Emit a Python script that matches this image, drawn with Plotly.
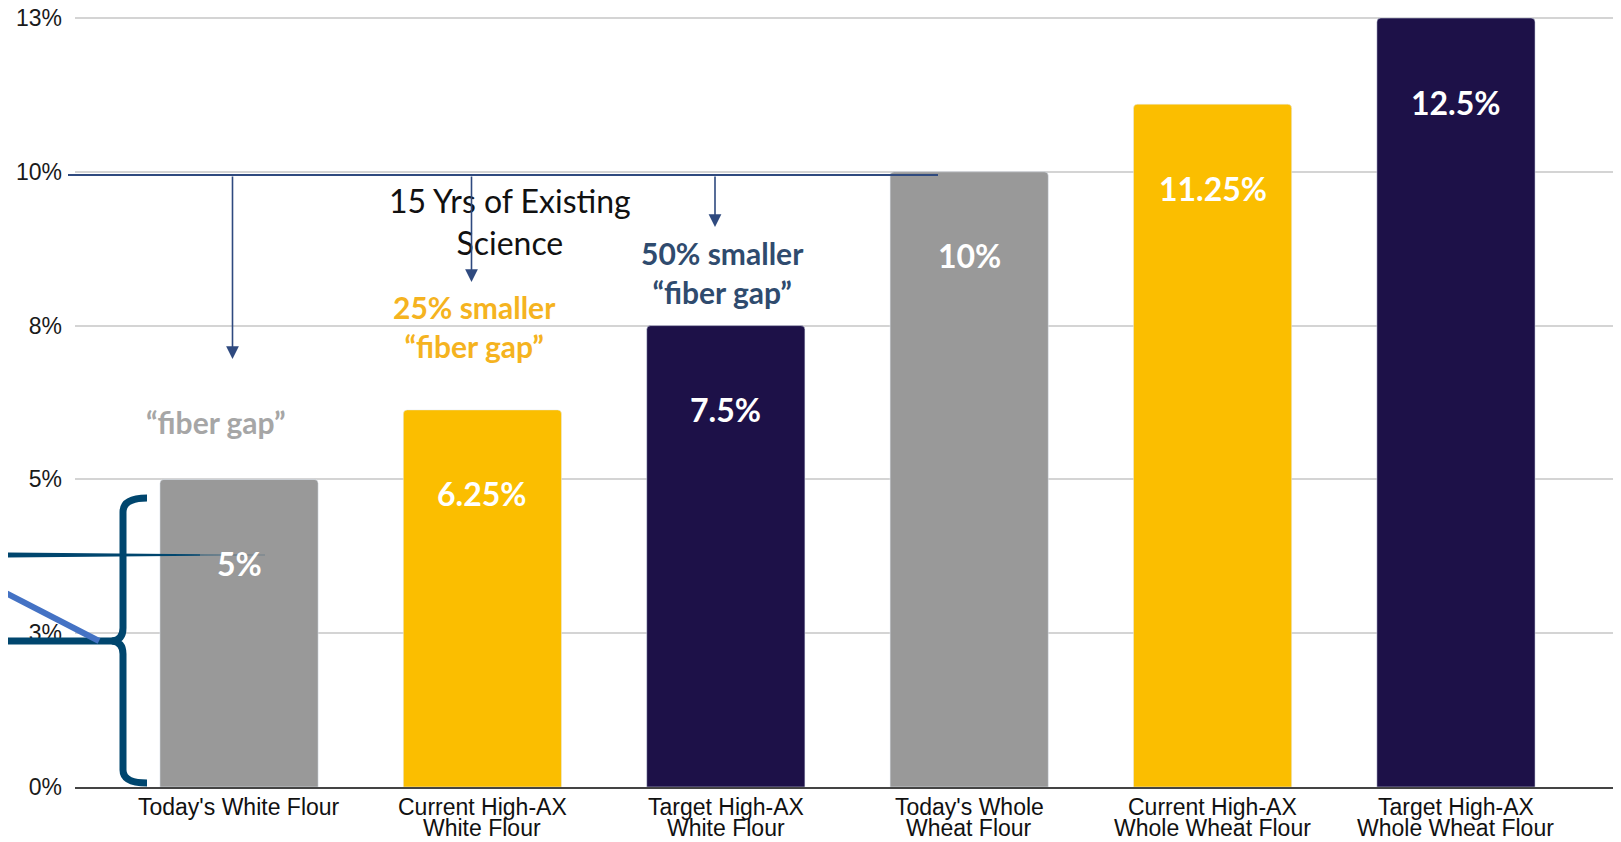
import plotly.graph_objects as go

# ---------------- data ----------------
categories = ["Today's White Flour", "Current High-AX<br>White Flour", "Target High-AX<br>White Flour",
              "Today's Whole<br>Wheat Flour", "Current High-AX<br>Whole Wheat Flour",
              "Target High-AX<br>Whole Wheat Flour"]
values = [5.0, 6.13, 7.5, 10.0, 11.1, 12.5]
value_labels = ["5%", "6.25%", "7.5%", "10%", "11.25%", "12.5%"]
bar_colors = ["#999999", "#FBBE00", "#1D1148", "#999999", "#FBBE00", "#1D1148"]
y_tickvals = [0, 2.5, 5, 7.5, 10, 12.5]
y_ticktext = ["0%", "3%", "5%", "8%", "10%", "13%"]

# ---------------- layout geometry ----------------
# the page body has an 8px default margin, so the figure is offset by 8px
OFF = 8
W, H = 1621 - OFF, 842 - OFF
PL, PR, PT, PB = 75, 1620, 10, 787  # plot area in window pixels
L, T = PL - OFF, PT - OFF
R = (W + OFF) - PR
B = (H + OFF) - PB


def px(x):
    return (x - PL) / (PR - PL)


def py(y):
    return (PB - y) / (PB - PT)


fig = go.Figure(go.Bar(x=categories, y=values, marker_color=bar_colors, width=0.65,
                       hoverinfo="skip"))

annotations = []

# bar value labels
for c, v, t in zip(categories, values, value_labels):
    annotations.append(dict(x=c, y=v, xref="x", yref="y", text=t, showarrow=False,
                            xanchor="center", yanchor="middle", yshift=-84,
                            font=dict(family="Lato", size=32, color="white", weight="bold")))

# category labels (line by line for tight spacing)
for c in categories:
    for i, line in enumerate(c.split("<br>")):
        annotations.append(dict(x=c, y=0, xref="x", yref="paper", text=line, showarrow=False,
                                xanchor="center", yanchor="middle", yshift=-(19.5 + 21.5 * i),
                                font=dict(family="Liberation Sans, Arial", size=23, color="#111111")))

# text notes
note_font = "Lato"
annotations += [
    dict(x=px(510), y=py(222), xref="paper", yref="paper", text="15 Yrs of Existing<br>Science",
         showarrow=False, xanchor="center", yanchor="middle",
         font=dict(family=note_font, size=32, color="#111111")),
    dict(x=px(474), y=py(326), xref="paper", yref="paper", text="25% smaller<br>“fiber gap”",
         showarrow=False, xanchor="center", yanchor="middle",
         font=dict(family=note_font, size=30, color="#F5B320", weight="bold")),
    dict(x=px(722), y=py(272), xref="paper", yref="paper", text="50% smaller<br>“fiber gap”",
         showarrow=False, xanchor="center", yanchor="middle",
         font=dict(family=note_font, size=30, color="#2F4B6E", weight="bold")),
    dict(x=px(216), y=py(422), xref="paper", yref="paper", text="“fiber gap”",
         showarrow=False, xanchor="center", yanchor="middle",
         font=dict(family=note_font, size=30, color="#A6A6A6", weight="bold")),
]

# arrows down from the 10% line
line_y = 175
for hx, hy in [(232.5, 359), (471.5, 282), (715, 227)]:
    annotations.append(dict(x=px(hx), y=py(hy), xref="paper", yref="paper", text="",
                            showarrow=True, ax=0, ay=line_y - hy, arrowhead=2, arrowsize=1.6,
                            arrowwidth=1.6, arrowcolor="#2F4A7F", standoff=0, startstandoff=0))

shapes = [
    # horizontal 10% reference line
    dict(type="line", xref="paper", yref="paper", x0=px(68), x1=px(938), y0=py(line_y), y1=py(line_y),
         line=dict(color="#2F4A7F", width=2), layer="above"),
    # tapered thin line
    dict(type="path", xref="paper", yref="paper",
         path=f"M {px(0)},{py(552.5)} L {px(200)},{py(554.2)} L {px(200)},{py(555.8)} L {px(0)},{py(557.5)} Z",
         fillcolor="#00466E", line=dict(width=0), layer="above"),
    dict(type="path", xref="paper", yref="paper",
         path=f"M {px(200)},{py(554.2)} L {px(265)},{py(554.8)} L {px(265)},{py(555.2)} L {px(200)},{py(555.8)} Z",
         fillcolor="rgba(0,70,110,0.5)", line=dict(width=0), layer="above"),
    # thick horizontal line into brace
    dict(type="line", xref="paper", yref="paper", x0=px(0), x1=px(118), y0=py(641), y1=py(641),
         line=dict(color="#00466E", width=7), layer="above"),
    # curly brace
    dict(type="path", xref="paper", yref="paper",
         path=(f"M {px(147)},{py(498)} Q {px(123)},{py(498)} {px(123)},{py(512)} "
               f"L {px(123)},{py(628)} Q {px(123)},{py(640)} {px(112)},{py(641)} "
               f"Q {px(123)},{py(642)} {px(123)},{py(654)} "
               f"L {px(123)},{py(770)} Q {px(123)},{py(783)} {px(147)},{py(783)}"),
         line=dict(color="#00466E", width=7), layer="above"),
    # lighter blue diagonal
    dict(type="line", xref="paper", yref="paper", x0=px(0), x1=px(99), y0=py(590), y1=py(641),
         line=dict(color="#4472C4", width=6), layer="above"),
]

fig.update_layout(
    width=W, height=H,
    margin=dict(l=L, r=R, t=T, b=B),
    paper_bgcolor="white", plot_bgcolor="white",
    showlegend=False,
    barcornerradius=4,
    annotations=annotations,
    shapes=shapes,
    xaxis=dict(range=[-0.674, 5.674], showticklabels=False, showgrid=False, ticks="",
               showline=True, linecolor="#444444", linewidth=2, zeroline=False, fixedrange=True,
               automargin=False),
    yaxis=dict(range=[0, 12.63], tickvals=y_tickvals, ticktext=y_ticktext, showgrid=True,
               gridcolor="#D4D4D4", gridwidth=1.5, zeroline=False, showline=False, ticks="",
               ticklabelstandoff=12, ticklabeloverflow="allow", automargin=False,
               tickfont=dict(family="Liberation Sans, Arial", size=23, color="#1a1a1a"),
               fixedrange=True),
)

fig.write_html("out.html")
